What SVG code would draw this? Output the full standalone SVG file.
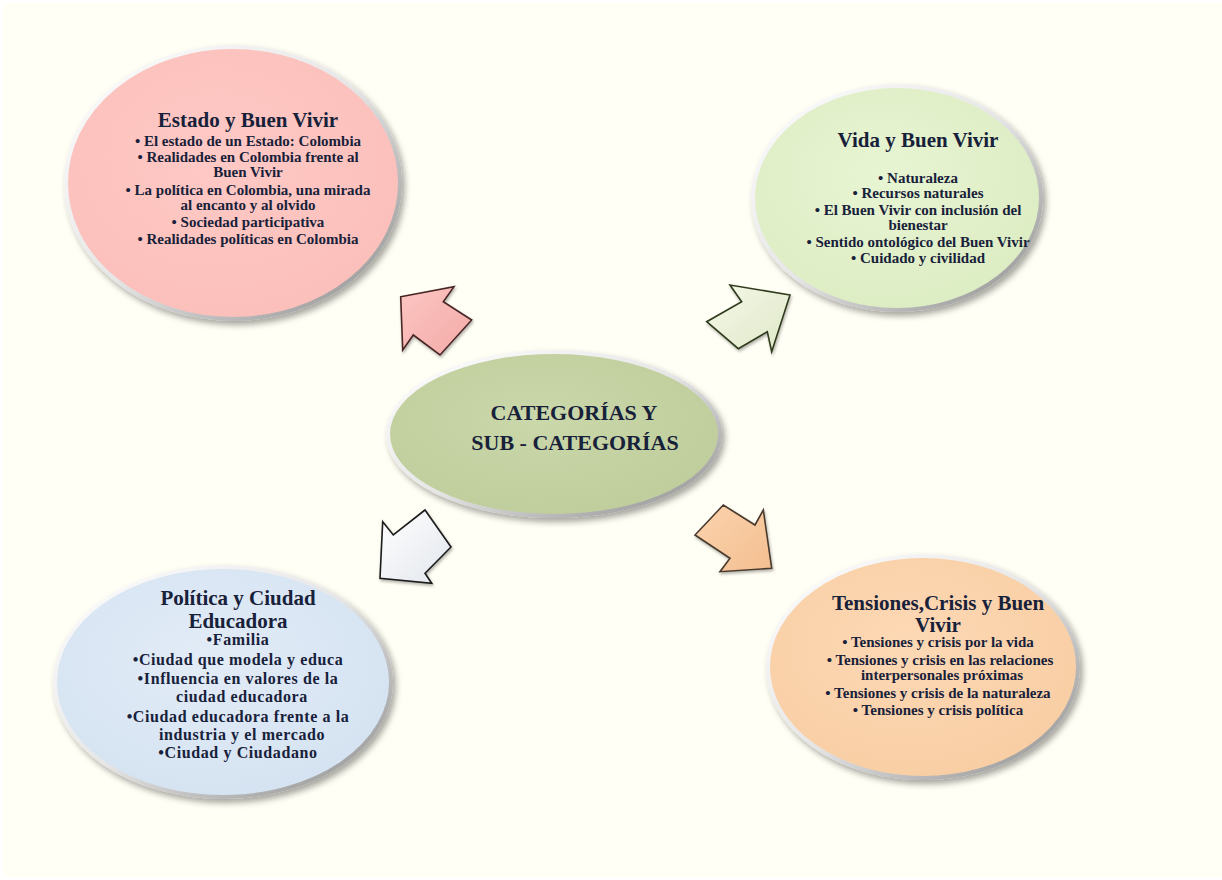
<svg xmlns="http://www.w3.org/2000/svg" width="1222" height="880" viewBox="0 0 1222 880">
<defs>
<filter id="sh" x="-20%" y="-20%" width="140%" height="140%">
<feDropShadow dx="3" dy="4" stdDeviation="3" flood-color="#000" flood-opacity="0.35"/>
</filter>
<filter id="ash" x="-30%" y="-30%" width="160%" height="160%">
<feDropShadow dx="1" dy="2" stdDeviation="1.5" flood-color="#000" flood-opacity="0.3"/>
</filter>
<linearGradient id="rim" x1="0" y1="0" x2="1" y2="1">
<stop offset="0" stop-color="#ffffff"/>
<stop offset="0.5" stop-color="#e6e6e6"/>
<stop offset="1" stop-color="#8a8a8a"/>
</linearGradient>
<radialGradient id="gPink" cx="0.45" cy="0.4" r="0.65">
<stop offset="0" stop-color="#ffc9c5"/>
<stop offset="1" stop-color="#fbbfba"/>
</radialGradient>
<radialGradient id="gGreen" cx="0.45" cy="0.4" r="0.65">
<stop offset="0" stop-color="#e8f5d3"/>
<stop offset="1" stop-color="#dcecc2"/>
</radialGradient>
<radialGradient id="gCenter" cx="0.45" cy="0.4" r="0.65">
<stop offset="0" stop-color="#cad8aa"/>
<stop offset="1" stop-color="#bfcd9c"/>
</radialGradient>
<radialGradient id="gBlue" cx="0.45" cy="0.4" r="0.65">
<stop offset="0" stop-color="#e2ecf7"/>
<stop offset="1" stop-color="#d4e2f1"/>
</radialGradient>
<radialGradient id="gOrange" cx="0.45" cy="0.4" r="0.65">
<stop offset="0" stop-color="#fdd9b5"/>
<stop offset="1" stop-color="#f8cda3"/>
</radialGradient>
<linearGradient id="aPink" x1="0" y1="0" x2="1" y2="1">
<stop offset="0" stop-color="#fcc6c3"/><stop offset="1" stop-color="#f3aaa7"/>
</linearGradient>
<linearGradient id="aGreen" x1="0" y1="0" x2="1" y2="1">
<stop offset="0" stop-color="#f4f8e8"/><stop offset="1" stop-color="#dfe8c8"/>
</linearGradient>
<linearGradient id="aWhite" x1="0" y1="0" x2="1" y2="1">
<stop offset="0" stop-color="#ffffff"/><stop offset="1" stop-color="#e2e6ec"/>
</linearGradient>
<linearGradient id="aOrange" x1="0" y1="0" x2="1" y2="1">
<stop offset="0" stop-color="#fcd3ae"/><stop offset="1" stop-color="#f3bf90"/>
</linearGradient>
<style>
.ell { stroke: url(#rim); stroke-width: 4; filter: url(#sh); }
.t { font-family: "Liberation Serif", "Times New Roman", serif; font-weight: bold; fill: #18213a; text-anchor: middle; }
.ti { font-size: 21px; }
.b { font-size: 15px; }
.bb { font-size: 16px; letter-spacing: 0.6px; }
.ct { font-size: 22px; }
.arr { stroke-width: 1.6; stroke-linejoin: miter; filter: url(#ash); }
</style>
</defs>

<rect x="3" y="3" width="1219" height="874" fill="#fffff5"/>

<g id="connectors">
<polygon id="arrow-pink" class="arr" fill="url(#aPink)" stroke="#4a2626" points="400.7,296.7 454,286.7 443.3,301.7 471.7,320 440,355 413.3,335 402.7,350"/>
<polygon id="arrow-green" class="arr" fill="url(#aGreen)" stroke="#2f3a1c" points="790,295 730,285 741.7,301.7 706.7,321.7 738.3,348.7 767.3,331.7 771.7,351.7"/>
<polygon id="arrow-white" class="arr" fill="url(#aWhite)" stroke="#1a1a1a" points="382.7,521.7 393.3,535 425,510 451,547 425,573.3 431.7,583.3 380,578.3"/>
<polygon id="arrow-orange" class="arr" fill="url(#aOrange)" stroke="#4a3a2e" points="723.3,505 695,535 730,558.3 720,571.7 771.7,568.3 763.3,510 755,525"/>
</g>

<g id="node-estado">
<ellipse class="ell" cx="233" cy="183" rx="167" ry="136" fill="url(#gPink)"/>
<text class="t ti" x="248" y="127">Estado y Buen Vivir</text>
<text class="t b" x="248" y="145.5">• El estado de un Estado: Colombia</text>
<text class="t b" x="248" y="161.5">• Realidades en Colombia frente al</text>
<text class="t b" x="248" y="177">Buen Vivir</text>
<text class="t b" x="248" y="194.5">• La política en Colombia, una mirada</text>
<text class="t b" x="248" y="210">al encanto y al olvido</text>
<text class="t b" x="248" y="227">• Sociedad participativa</text>
<text class="t b" x="248" y="244">• Realidades políticas en Colombia</text>
</g>

<g id="node-vida">
<ellipse class="ell" cx="897" cy="198" rx="144" ry="112" fill="url(#gGreen)"/>
<text class="t ti" x="918" y="147">Vida y Buen Vivir</text>
<text class="t b" x="918" y="182.7">• Naturaleza</text>
<text class="t b" x="918" y="198.3">• Recursos naturales</text>
<text class="t b" x="918" y="215">• El Buen Vivir con inclusión del</text>
<text class="t b" x="918" y="230">bienestar</text>
<text class="t b" x="918" y="246.7">• Sentido ontológico del Buen Vivir</text>
<text class="t b" x="918" y="263.3">• Cuidado y civilidad</text>
</g>

<g id="node-center">
<ellipse class="ell" cx="554" cy="434" rx="166" ry="82" fill="url(#gCenter)"/>
<text class="t ct" x="574" y="420">CATEGORÍAS Y</text>
<text class="t ct" x="575" y="450">SUB - CATEGORÍAS</text>
</g>

<g id="node-politica">
<ellipse class="ell" cx="223" cy="682" rx="168" ry="115" fill="url(#gBlue)"/>
<text class="t ti" x="238" y="605">Política y Ciudad</text>
<text class="t ti" x="238" y="628.3">Educadora</text>
<text class="t bb" x="238" y="645">•Familia</text>
<text class="t bb" x="238" y="665">•Ciudad que modela y educa</text>
<text class="t bb" x="238" y="684.3">•Influencia en valores de la</text>
<text class="t bb" x="242" y="701.7">ciudad educadora</text>
<text class="t bb" x="238" y="721.7">•Ciudad educadora frente a la</text>
<text class="t bb" x="242" y="740">industria y el mercado</text>
<text class="t bb" x="238" y="758.3">•Ciudad  y Ciudadano</text>
</g>

<g id="node-tensiones">
<ellipse class="ell" cx="923" cy="667" rx="155" ry="111" fill="url(#gOrange)"/>
<text class="t ti" x="938" y="610">Tensiones,Crisis y Buen</text>
<text class="t ti" x="938" y="631.7">Vivir</text>
<text class="t b" x="938" y="647.3">• Tensiones y crisis por la vida</text>
<text class="t b" x="940" y="665">• Tensiones y crisis en las relaciones</text>
<text class="t b" x="942" y="680">interpersonales próximas</text>
<text class="t b" x="938" y="698.3">• Tensiones y crisis de la naturaleza</text>
<text class="t b" x="938" y="715">• Tensiones y crisis política</text>
</g>
</svg>
